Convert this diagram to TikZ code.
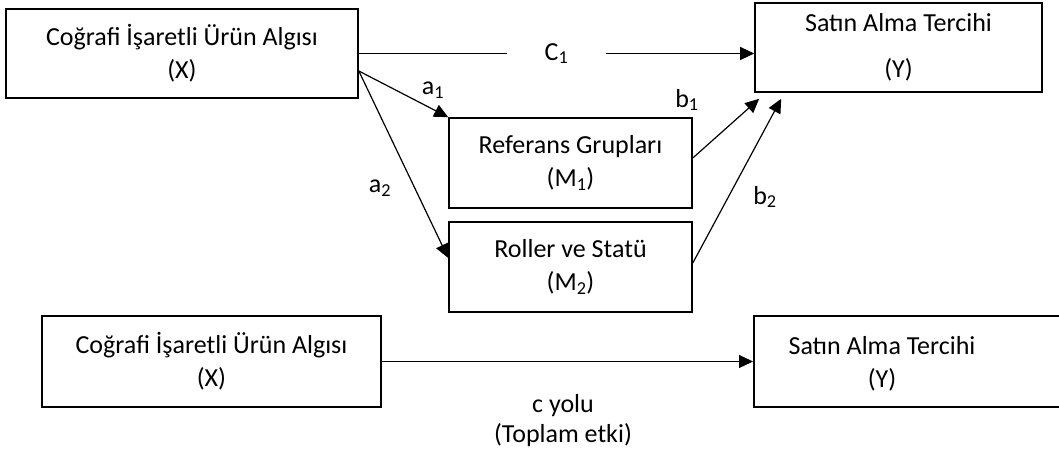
\documentclass[tikz,border=0pt]{standalone}
\usepackage{fontspec}
\setmainfont{Carlito}
\usetikzlibrary{arrows.meta}

\begin{document}
\begin{tikzpicture}[x=1pt,y=-1pt,
                    font=\fontsize{26}{33}\selectfont,
                    kutu/.style={draw,line width=1.6pt,inner sep=0pt,align=center},
                    yol/.style={line width=1.2pt,-{Triangle[length=14pt,width=13pt]}},
                    etiket/.style={inner sep=1pt}]
  \useasboundingbox (0,0) rectangle (1059,454);

  % mediation model
  \node[kutu,minimum width=352pt,minimum height=89pt] (X) at (182,53.5)
        {Coğrafi İşaretli Ürün Algısı\\(X)};
  \node[kutu,minimum width=287pt,minimum height=89pt] (Y) at (898.5,47.5)
        {Satın Alma Tercihi\\[13pt](Y)};
  \node[kutu,minimum width=243pt,minimum height=90pt] (M1) at (570.5,163)
        {Referans Grupları\\(M\textsubscript{1})};
  \node[kutu,minimum width=243pt,minimum height=90pt] (M2) at (570.5,267)
        {Roller ve Statü\\(M\textsubscript{2})};

  % direct path, label sits in a gap of the line
  \draw[yol] (X.east) -- node[fill=white,inner xsep=38pt,inner ysep=2pt] (c1) {C\textsubscript{1}}
        (Y.west |- X.east);

  \coordinate (xa) at ([yshift=-17.5pt]X.east);
  \draw[yol] (xa) -- (M1.north west);
  \draw[yol] (xa) -- ([yshift=9pt]M2.west);
  \draw[yol] ([yshift=5pt]M1.east) -- ([xshift=5pt,yshift=-6pt]Y.south west);
  \draw[yol] ([yshift=4pt]M2.east) -- ([xshift=27pt,yshift=-6pt]Y.south west);

  \node[etiket] (a1) at (433,90) {a\textsubscript{1}};
  \node[etiket] (a2) at (380,188) {a\textsubscript{2}};
  \node[etiket] (b1) at (687,100) {b\textsubscript{1}};
  \node[etiket] (b2) at (765,197) {b\textsubscript{2}};

  % total effect
  \node[kutu,minimum width=339pt,minimum height=91pt] (X2) at (211.5,361.5)
        {Coğrafi İşaretli Ürün Algısı\\(X)};
  \node[kutu,minimum width=320pt,minimum height=91pt,anchor=west] (Y2) at (753,361.5) {};
  \node[align=center] (Y2t) at ([xshift=129pt,yshift=-2pt]Y2.west) {Satın Alma Tercihi\\(Y)};
  \draw[yol] (X2.east) -- (Y2.west);
  \node[align=center,font=\fontsize{26}{30}\selectfont] (cyol) at (563,421)
        {c yolu\\(Toplam etki)};
\end{tikzpicture}
\end{document}
